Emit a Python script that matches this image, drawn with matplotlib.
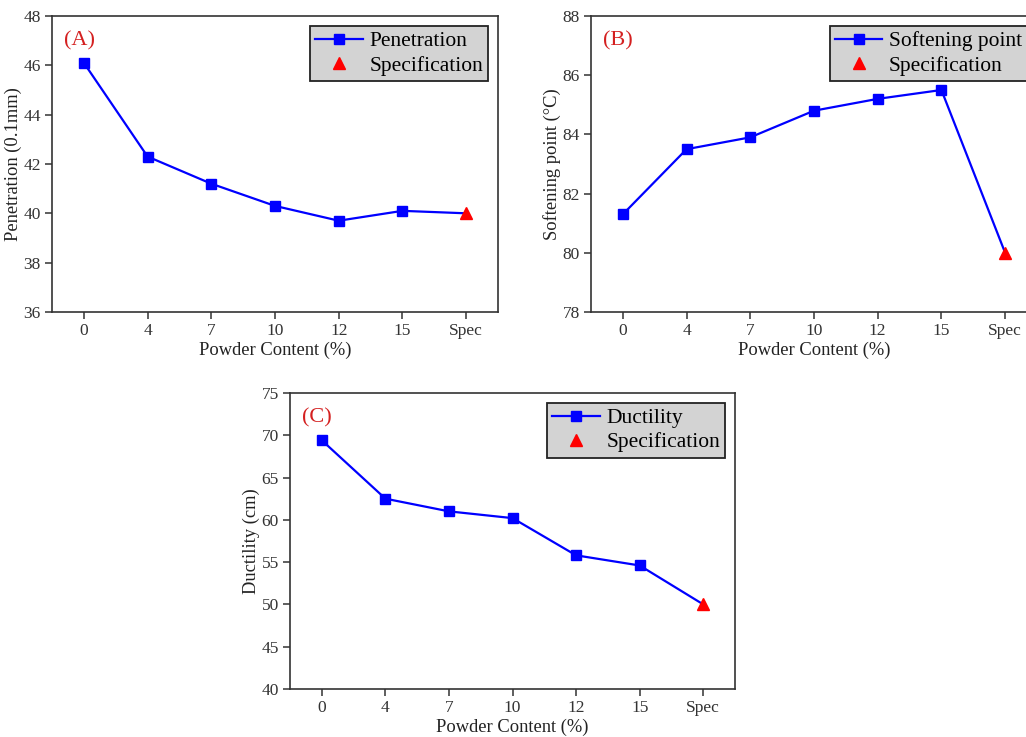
import numpy as np
import matplotlib.pyplot as plt
from matplotlib.lines import Line2D

plt.rcParams['font.family'] = ['Liberation Serif', 'DejaVu Serif']

x_labels = ["0", "4", "7", "10", "12", "15", "Spec"]

pen_vals = [46.1, 42.3, 41.2, 40.3, 39.7, 40.1]
pen_spec = 40.0
soft_vals = [81.3, 83.5, 83.9, 84.8, 85.2, 85.5]
soft_spec = 80.0
duct_vals = [69.4, 62.5, 61.0, 60.2, 55.8, 54.6]
duct_spec = 50.0


def panel(ax, vals, spec, name, ylab, ylim, ystep, tag):
    xs = np.arange(len(x_labels))
    allv = list(vals) + [spec]
    ax.plot(xs, allv, '-', color='#0000ff', lw=1.6, zorder=2)
    ax.plot(xs[:-1], vals, 's', color='#0000ff', ms=7.3, zorder=3)
    ax.plot(xs[-1], spec, '^', color='#ff0000', ms=9, zorder=3)
    ax.set_xlim(-0.5, 6.5)
    ax.set_ylim(*ylim)
    ax.set_xticks(xs)
    ax.set_xticklabels(x_labels)
    ax.set_yticks(np.arange(ylim[0], ylim[1] + 0.01, ystep))
    ax.tick_params(direction='out', length=5, width=1.1, labelsize=12.5,
                   colors='#333333', labelcolor='#333333', pad=3)
    for s in ax.spines.values():
        s.set_linewidth(1.2)
        s.set_color('#333333')
    ax.set_xlabel("Powder Content (%)", fontsize=13.3, color='#222222', labelpad=2)
    ax.set_ylabel(ylab, fontsize=13.3, color='#222222', labelpad=1)
    ax.text(0.027, 0.915, tag, transform=ax.transAxes, color='#d42020',
            fontsize=16, va='center', ha='left')
    # legend: line+square for the data, lone triangle for the spec
    handles = [Line2D([], [], color='#0000ff', lw=1.6, marker='s', ms=7.3),
               Line2D([], [], color='#ff0000', lw=0, marker='^', ms=9)]
    leg = ax.legend(handles, [name, "Specification"], loc='upper right',
                    fontsize=15.5, fancybox=False, framealpha=1,
                    facecolor='#d3d3d3', edgecolor='#222222',
                    borderaxespad=0.45, handlelength=2.2, handletextpad=0.3,
                    borderpad=0.25, labelspacing=0.2)
    leg.get_frame().set_linewidth(1.3)


fig = plt.figure(figsize=(10.26, 7.37), dpi=100)
ax_a = fig.add_axes([0.0507, 0.5767, 0.4347, 0.4016])
ax_b = fig.add_axes([0.576, 0.5767, 0.4347, 0.4016])
ax_c = fig.add_axes([0.2827, 0.0652, 0.4337, 0.4016])

panel(ax_a, pen_vals, pen_spec, "Penetration", "Penetration (0.1mm)", (36, 48), 2, "(A)")
panel(ax_b, soft_vals, soft_spec, "Softening point", "Softening point (\u00b0C)", (78, 88), 2, "(B)")
panel(ax_c, duct_vals, duct_spec, "Ductility", "Ductility (cm)", (40, 75), 5, "(C)")

fig.savefig("out.png", dpi=100)
